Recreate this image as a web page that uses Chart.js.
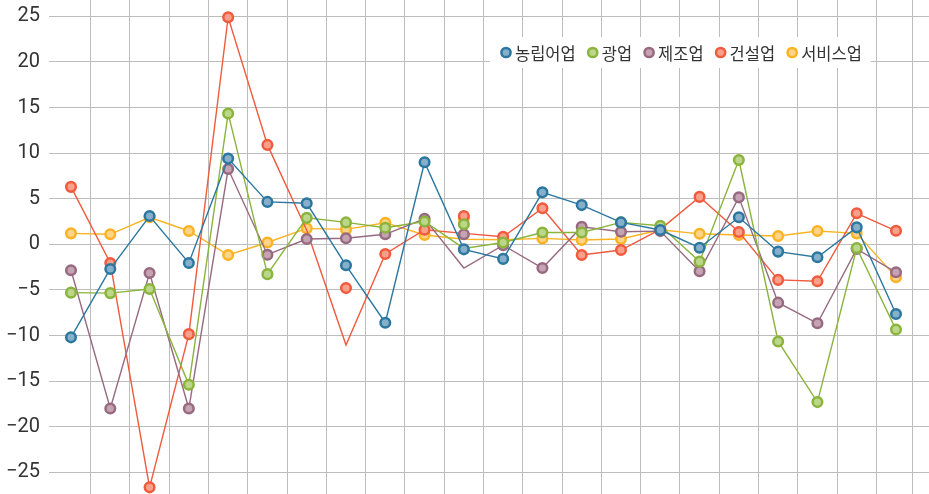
<!DOCTYPE html>
<html>
<head>
<meta charset="utf-8">
<script src="https://cdn.jsdelivr.net/npm/chart.js@4.4.1/dist/chart.umd.min.js"></script>
<style>
  html, body { margin: 0; padding: 0; background: #fff; }
  #wrap { width: 929px; height: 494px; position: relative; }
</style>
</head>
<body>
<div id="wrap"><canvas id="chart"></canvas></div>
<script>
// 업종별 값 (선의 꼭짓점)
const seriesNames = ["농립어업", "광업", "제조업", "건설업", "서비스업"];

const agriLine    = [-10.2, -2.7, 3.1, -2.05, 9.4, 4.65, 4.5, -2.3, -8.6, 9.0, -0.55, -1.6, 5.7, 4.3, 2.4, 1.57, -0.37, 2.96, -0.8, -1.42, 1.86, -7.65];
const miningLine  = [-5.3, -5.35, -4.9, -15.4, 14.35, -3.27, 2.9, 2.4, 1.82, 2.5, -0.45, 0.2, 1.3, 1.3, 2.4, 2.04, -1.9, 9.24, -10.65, -17.3, -0.4, -9.35];
const manufLine   = [-2.85, -18.0, -3.15, -18.0, 8.25, -1.14, 0.58, 0.66, 1.1, 2.8, -2.6, -0.1, -2.6, 1.93, 1.38, 1.45, -2.95, 5.15, -6.4, -8.66, -0.5, -3.07];
const constrLine  = [6.3, -2.05, -26.65, -9.85, 24.9, 10.9, 1.55, -11.05, -1.06, 1.6, 1.2, 0.83, 3.95, -1.17, -0.63, 1.64, 5.2, 1.35, -3.9, -4.05, 3.4, 1.48];
const serviceLine = [1.2, 1.1, 2.96, 1.46, -1.17, 0.2, 1.75, 1.64, 2.37, 1.02, 0.55, 0.5, 0.65, 0.47, 0.58, 1.6, 1.15, 1.02, 0.91, 1.46, 1.2, -3.6];

// 원래 그림에서 점(마커)이 선과 다른 위치에 찍힌 값
const agriDots    = agriLine;
const miningDots  = [-5.3, -5.35, -4.9, -15.4, 14.35, -3.27, 2.9, 2.4, 1.82, 2.5, 2.2, 0.2, 1.3, 1.3, 2.4, 2.04, -1.9, 9.24, -10.65, -17.3, -0.4, -9.35];
const manufDots   = [-2.85, -18.0, -3.15, -18.0, 8.25, -1.14, 0.58, 0.66, 1.1, 2.8, 1.1, -0.1, -2.6, 1.93, 1.38, 1.45, -2.95, 5.15, -6.4, -8.66, -0.5, -3.07];
const constrDots  = [6.3, -2.05, -26.65, -9.85, 24.9, 10.9, null, -4.8, -1.06, 1.6, 3.1, 0.83, 3.95, -1.17, -0.63, 1.64, 5.2, 1.35, -3.9, -4.05, 3.4, 1.48];
const serviceDots = [1.2, 1.1, 2.96, 1.46, -1.17, 0.2, 1.75, 1.64, 2.37, 1.02, 2.8, 0.5, 0.65, 0.47, 0.58, 1.6, 1.15, 1.02, 0.91, 1.46, 1.2, -3.6];

const yTicks = [-25, -20, -15, -10, -5, 0, 5, 10, 15, 20, 25];

const lineColors = ["#2b77a0", "#8ab43c", "#976a80", "#f05a3d", "#fbb323"];
const fillColors = ["#86afcb", "#bcd68a", "#c4a3b3", "#f8a08a", "#fdd488"];

const lines = [agriLine, miningLine, manufLine, constrLine, serviceLine];
const dots = [agriDots, miningDots, manufDots, constrDots, serviceDots];

function toXY(arr) {
  return arr.map((v, i) => ({ x: i, y: v }));
}

const datasets = [];
seriesNames.forEach((name, s) => {
  datasets.push({
    label: name,
    data: toXY(dots[s]),
    showLine: false,
    pointRadius: 4.8,
    pointBorderWidth: 2.5,
    pointBorderColor: lineColors[s],
    pointBackgroundColor: fillColors[s],
    order: s * 2
  });
  datasets.push({
    label: name + "_line",
    data: toXY(lines[s]),
    borderColor: lineColors[s],
    borderWidth: 1.4,
    pointRadius: 0,
    tension: 0,
    order: s * 2 + 1
  });
});

// 세로 격자선 위치
const xGrid = [];
for (let k = 0; k <= 20; k++) xGrid.push(k + 0.5);
xGrid.push(21.43);

const legendInside = {
  id: "legendInside",
  afterDraw(chart) {
    const ctx = chart.ctx;
    const left = 490, top = 37, h = 31;
    const cy = top + h / 2;
    ctx.save();
    ctx.font = '16.5px "Noto Sans CJK KR"';
    let x = left + 10;
    const items = [];
    seriesNames.forEach((name, s) => {
      const w = ctx.measureText(name).width;
      items.push({ name, s, cx: x + 6, tx: x + 15, w });
      x += 15 + w + 11;
    });
    const right = x - 11 + 9;
    ctx.fillStyle = "#fff";
    ctx.fillRect(left, top, right - left, h);
    items.forEach(it => {
      ctx.beginPath();
      ctx.arc(it.cx, cy, 4.6, 0, Math.PI * 2);
      ctx.fillStyle = fillColors[it.s];
      ctx.fill();
      ctx.lineWidth = 2.5;
      ctx.strokeStyle = lineColors[it.s];
      ctx.stroke();
      ctx.fillStyle = "#333";
      ctx.textBaseline = "middle";
      ctx.fillText(it.name, it.tx, cy + 1);
    });
    ctx.restore();
  }
};

new Chart(document.getElementById("chart"), {
  type: "line",
  data: { datasets },
  options: {
    responsive: true,
    maintainAspectRatio: false,
    animation: false,
    layout: { padding: 0, autoPadding: false },
    plugins: {
      legend: { display: false },
      tooltip: { enabled: false }
    },
    scales: {
      x: {
        type: "linear",
        min: -0.56,
        max: 21.84,
        afterBuildTicks: scale => { scale.ticks = xGrid.map(v => ({ value: v })); },
        afterFit: scale => { scale.height = 0; scale.paddingLeft = 0; scale.paddingRight = 0; },
        ticks: { display: false },
        border: { display: false },
        grid: { color: "#bdbdbd", lineWidth: 1, drawTicks: false, tickLength: 0 }
      },
      y: {
        min: -27.38,
        max: 26.79,
        afterBuildTicks: scale => { scale.ticks = yTicks.map(v => ({ value: v })); },
        afterFit: scale => { scale.width = 49; scale.paddingTop = 0; scale.paddingBottom = 0; },
        border: { display: false },
        grid: { color: "#bdbdbd", lineWidth: 1, drawTicks: false, tickLength: 0 },
        ticks: {
          padding: 9,
          color: "#333",
          font: { family: "Roboto", size: 20 },
          callback: v => (v < 0 ? "\u2212" + Math.abs(v) : String(v))
        }
      }
    }
  },
  plugins: [legendInside]
});
</script>
</body>
</html>
